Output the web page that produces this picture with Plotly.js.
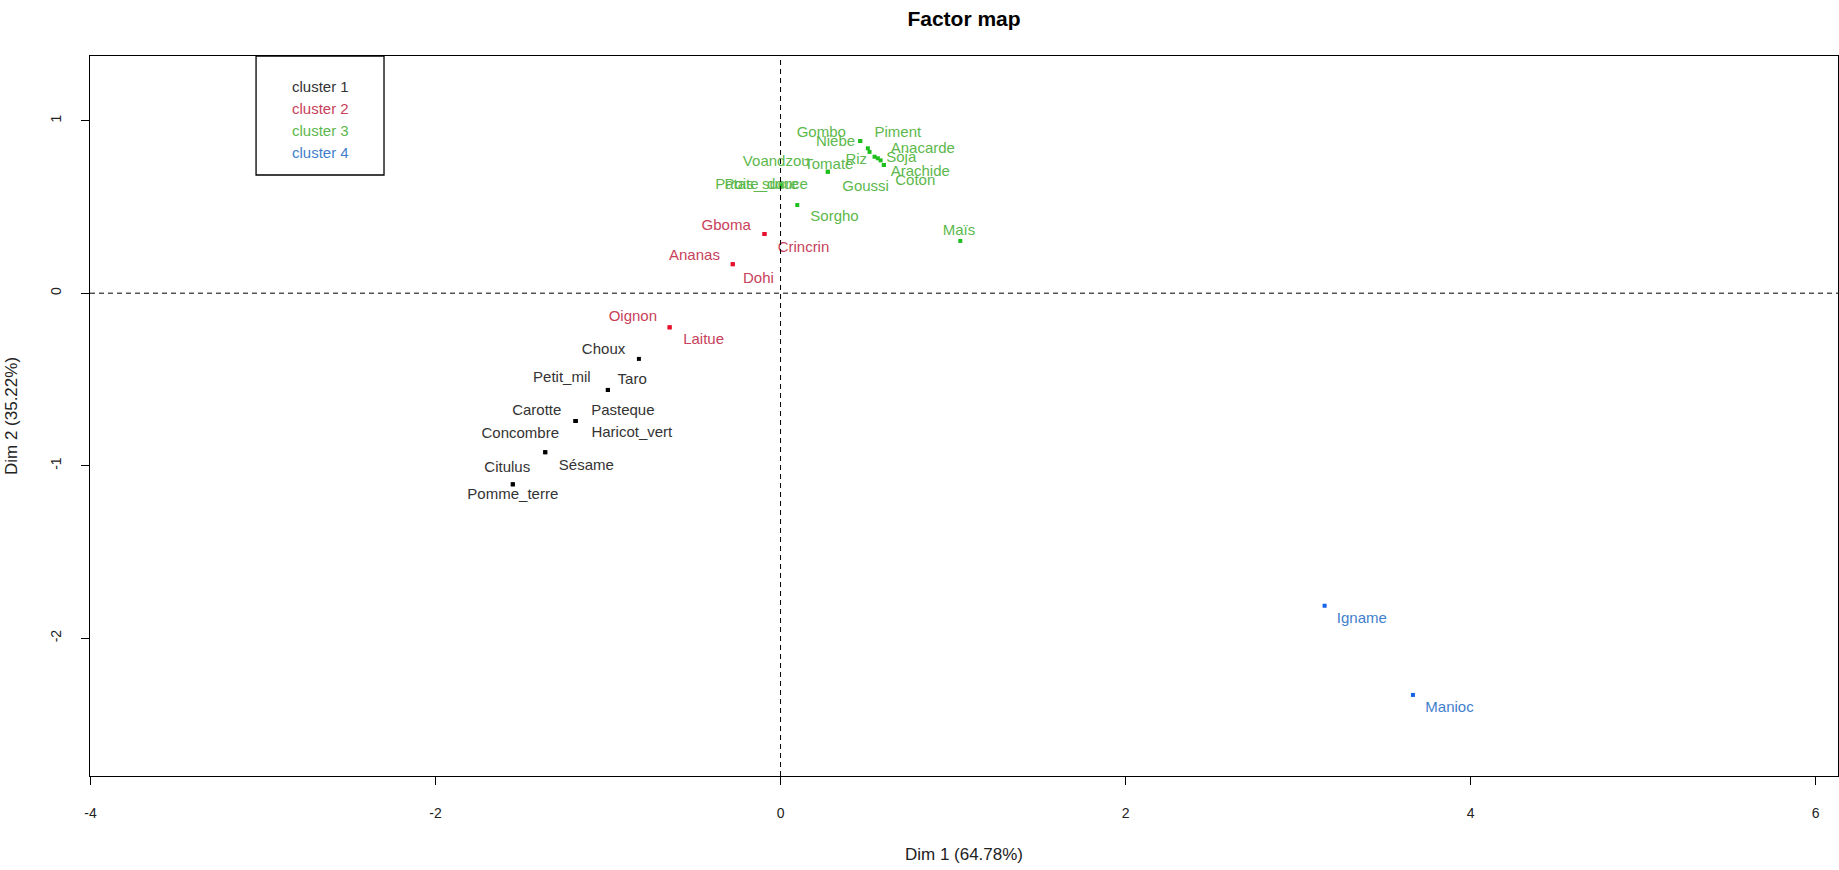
<!DOCTYPE html>
<html>
<head>
<meta charset="utf-8">
<script src="https://cdn.plot.ly/plotly-3.0.1.min.js"></script>
<style>html,body{margin:0;padding:0;background:#fff;}#chart{width:1839px;height:870px;}</style>
</head>
<body>
<div id="chart"></div>
<script>
// ---- data ----
const names = ["Choux","Petit_mil","Taro","Carotte","Pasteque","Haricot_vert","Concombre","Sésame","Citulus","Pomme_terre",
  "Gboma","Crincrin","Ananas","Dohi","Oignon","Laitue",
  "Gombo","Niebe","Piment","Anacarde","Riz","Soja","Arachide","Coton","Goussi","Tomate","Voandzou","Patate_douce","Pois_sucre","Sorgho","Maïs",
  "Igname","Manioc"];
const cluster = [1,1,1,1,1,1,1,1,1,1,
  2,2,2,2,2,2,
  3,3,3,3,3,3,3,3,3,3,3,3,3,3,3,
  4,4];
const dim1 = [-0.821,-1.001,-1.001,-1.188,-1.188,-1.188,-1.364,-1.364,-1.552,-1.552,
  -0.093,-0.093,-0.277,-0.277,-0.643,-0.643,
  0.462,0.462,0.506,0.516,0.545,0.564,0.599,0.599,0.580,0.274,0.274,0.005,0.005,0.097,1.042,
  3.154,3.666];
const dim2 = [-0.381,-0.561,-0.561,-0.741,-0.741,-0.741,-0.922,-0.922,-1.108,-1.108,
  0.343,0.343,0.168,0.168,-0.198,-0.198,
  0.882,0.882,0.840,0.819,0.791,0.782,0.743,0.743,0.770,0.704,0.704,0.625,0.625,0.511,0.303,
  -1.812,-2.329];
// label anchor positions (as placed by the automatic label layout)
const labDim1 = [-1.026,-1.268,-0.860,-1.413,-0.914,-0.862,-1.509,-1.126,-1.584,-1.552,
  -0.315,0.133,-0.499,-0.128,-0.856,-0.446,
  0.236,0.319,0.680,0.825,0.439,0.700,0.810,0.781,0.493,0.280,-0.025,-0.110,-0.110,0.313,1.034,
  3.370,3.878];
const labDim2 = [-0.329,-0.493,-0.507,-0.687,-0.687,-0.812,-0.818,-1.002,-1.012,-1.174,
  0.386,0.260,0.217,0.082,-0.140,-0.275,
  0.927,0.875,0.927,0.836,0.768,0.782,0.704,0.650,0.617,0.743,0.759,0.627,0.627,0.440,0.357,
  -1.889,-2.406];
const clusterNames = ["cluster 1","cluster 2","cluster 3","cluster 4"];
const xTicks = [-4,-2,0,2,4,6];
const yTicks = [-2,-1,0,1];
const xTitle = "Dim 1 (64.78%)";
const yTitle = "Dim 2 (35.22%)";
const chartTitle = "Factor map";

// ---- styling ----
const pointCol = ["#000000","#E8112D","#1DBF1D","#1563E6"];
const textCol  = ["#333333","#C8415A","#5CB84C","#3F80CC"];
const FONT = "Liberation Sans, Arial, sans-serif";

const traces = [];
[1,2,3,4].forEach(function(c){
  const idx = cluster.map(function(v,i){return v===c?i:-1;}).filter(function(i){return i>=0;});
  traces.push({
    type:"scatter", mode:"markers", showlegend:false, hoverinfo:"text",
    x: idx.map(function(i){return dim1[i];}),
    y: idx.map(function(i){return dim2[i];}),
    text: idx.map(function(i){return names[i];}),
    marker:{size:4, color:pointCol[c-1], symbol:"square"}
  });
});
[1,2,3,4].forEach(function(c){
  const idx = cluster.map(function(v,i){return v===c?i:-1;}).filter(function(i){return i>=0;});
  traces.push({
    type:"scatter", mode:"text", showlegend:false, hoverinfo:"skip",
    x: idx.map(function(i){return labDim1[i];}),
    y: idx.map(function(i){return labDim2[i];}),
    text: idx.map(function(i){return names[i];}),
    textposition:"middle center",
    textfont:{family:FONT, size:15, color:textCol[c-1]}
  });
});

const annotations = clusterNames.map(function(n,k){
  return {xref:"paper", yref:"paper", x:0.1144, y:0.9583-k*0.0306, xanchor:"left", yanchor:"middle",
    text:n, showarrow:false, font:{family:FONT, size:15, color:textCol[k]}};
});

const layout = {
  width:1839, height:870,
  margin:{l:90, r:1, t:56, b:94},
  paper_bgcolor:"#ffffff", plot_bgcolor:"#ffffff",
  font:{family:FONT, size:14, color:"#000"},
  title:{text:"<b>"+chartTitle+"</b>", x:0.5, xref:"paper", y:0.978, yref:"container", yanchor:"middle",
    font:{family:FONT, size:21, color:"#000"}},
  xaxis:{range:[-4.003,6.13], tickvals:xTicks, ticktext:xTicks.map(String),
    showgrid:false, zeroline:false, showline:true, mirror:true, linecolor:"#000", linewidth:1,
    ticks:"outside", ticklen:8, tickwidth:1, tickcolor:"#000", ticklabelstandoff:16,
    tickfont:{family:FONT, size:14, color:"#222"},
    title:{text:xTitle, standoff:28, font:{family:FONT, size:17, color:"#222"}}},
  yaxis:{range:[-2.799,1.375], tickvals:yTicks, ticktext:yTicks.map(String), tickangle:-90,
    showgrid:false, zeroline:false, showline:true, mirror:true, linecolor:"#000", linewidth:1,
    ticks:"outside", ticklen:8, tickwidth:1, tickcolor:"#000", ticklabelstandoff:14,
    tickfont:{family:FONT, size:14, color:"#222"},
    title:{text:yTitle, standoff:26, font:{family:FONT, size:17, color:"#222"}}},
  shapes:[
    {type:"line", xref:"x", yref:"paper", x0:0, x1:0, y0:0, y1:1, line:{color:"#000", width:1, dash:"5px,4px"}},
    {type:"line", xref:"paper", yref:"y", x0:0, x1:1, y0:0, y1:0, line:{color:"#000", width:1, dash:"5px,4px"}},
    {type:"rect", xref:"paper", yref:"paper", x0:0.095, x1:0.1682, y0:0.8347, y1:1.0, line:{color:"#000", width:1.3}, fillcolor:"rgba(0,0,0,0)"}
  ],
  annotations:annotations
};

Plotly.newPlot("chart", traces, layout, {staticPlot:true, displayModeBar:false});
</script>
</body>
</html>
